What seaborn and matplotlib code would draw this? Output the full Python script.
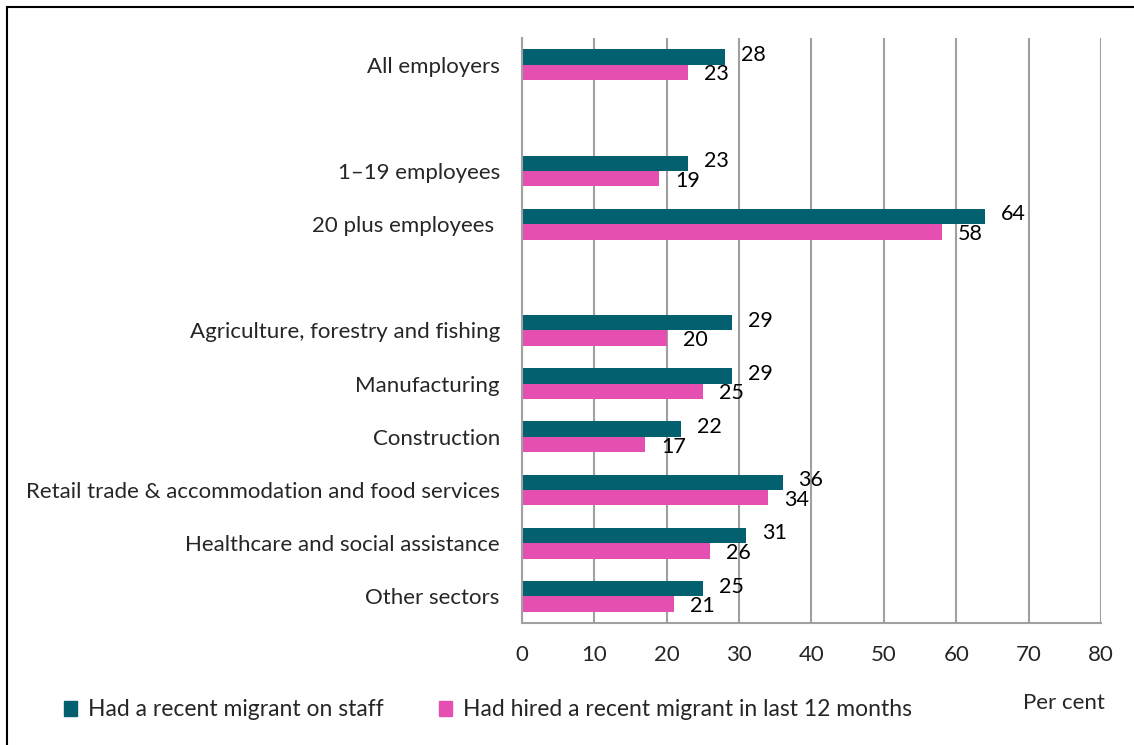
import numpy as np
import pandas as pd
import seaborn as sns
import matplotlib.pyplot as plt
from matplotlib.patches import Rectangle

# categories, with blank slots used as spacers between the groups
categories = ["All employers", " ", "1\u201319 employees", "20 plus employees ", "  ",
              "Agriculture, forestry and fishing", "Manufacturing", "Construction",
              "Retail trade & accommodation and food services",
              "Healthcare and social assistance", "Other sectors"]
data_cats = ["All employers", "1\u201319 employees", "20 plus employees ",
             "Agriculture, forestry and fishing", "Manufacturing", "Construction",
             "Retail trade & accommodation and food services",
             "Healthcare and social assistance", "Other sectors"]
on_staff = [28, 23, 64, 29, 29, 22, 36, 31, 25]
hired = [23, 19, 58, 20, 25, 17, 34, 26, 21]
series = ["Had a recent migrant on staff", "Had hired a recent migrant in last 12 months"]
colors = ["#03606F", "#E64FB2"]

df = pd.DataFrame({
    "category": data_cats * 2,
    "value": on_staff + hired,
    "series": [series[0]] * len(data_cats) + [series[1]] * len(data_cats),
})

sns.set_style("white")
plt.rcParams["font.family"] = ["Lato", "DejaVu Sans"]
fs = 16

fig = plt.figure(figsize=(11.34, 7.45), dpi=100)
ax = fig.add_axes([0.4603, 0.1638, 0.5106, 0.7852])

sns.barplot(data=df, y="category", x="value", hue="series", order=categories,
            hue_order=series, palette=colors, width=0.58, orient="h",
            saturation=1, linewidth=0, ax=ax, legend=False)

# value labels; nudge the two series apart a little so they don't collide
for cont, dy in zip(ax.containers, [1.5, -1.5]):
    labels = ax.bar_label(cont, fmt="%g", padding=11.5, fontsize=15.5, color="black")
    for t in labels:
        t.xyann = (t.xyann[0], dy)

ax.set_xlim(0, 80)
ax.set_ylim(len(categories) - 0.5, -0.5)
ax.set_xticks(np.arange(0, 81, 10))
ax.xaxis.grid(True, color="#A0A0A0", linewidth=1.5)
ax.set_axisbelow(True)
ax.tick_params(axis="x", length=0, pad=16, labelsize=fs)
ax.tick_params(axis="y", length=0, pad=16, labelsize=fs)
ax.set_xlabel("")
ax.set_ylabel("")
for s in ["top", "right"]:
    ax.spines[s].set_visible(False)
for s in ["left", "bottom"]:
    ax.spines[s].set_color("#A0A0A0")
    ax.spines[s].set_linewidth(1.5)

handles = [Rectangle((0, 0), 1, 1, color=c) for c in colors]
fig.legend(handles, series, loc="center left", bbox_to_anchor=(0.038, 0.047),
           ncol=2, frameon=False, fontsize=16.5, handlelength=0.6, handleheight=0.6,
           handletextpad=0.45, columnspacing=2.4)
fig.text(0.9745, 0.056, "Per cent", ha="right", va="center", fontsize=fs)

fig.add_artist(Rectangle((0.0062, -0.01), 1.0, 1.0, transform=fig.transFigure,
                         fill=False, edgecolor="black", linewidth=1.5))

fig.savefig("out.png", dpi=100)
